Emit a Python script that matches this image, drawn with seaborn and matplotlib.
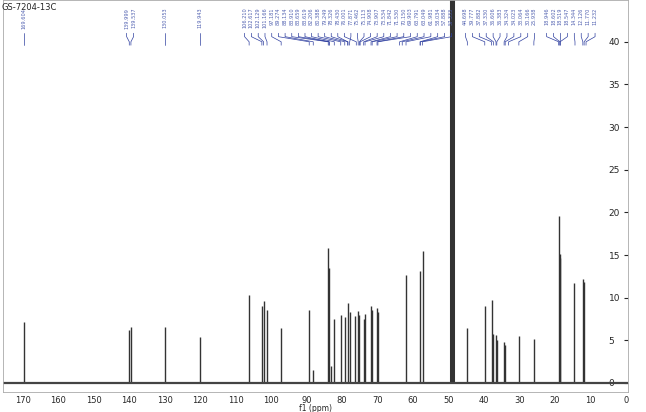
import numpy as np
import matplotlib
matplotlib.use('Agg')
import matplotlib.pyplot as plt
import seaborn as sns

sns.set_style('white')
plt.rcParams['font.family'] = ['DejaVu Sans']

# peak positions (ppm) and heights
ppm = [169.6, 140.0, 139.5, 130.05, 119.94, 106.21, 102.62, 102.13, 101.17, 97.18,
       89.27, 88.13, 83.91, 83.66, 83.2, 82.21, 80.39, 79.25, 78.33, 77.87, 76.43,
       75.46, 75.11, 73.91, 73.53, 71.84, 71.53, 70.15, 69.90, 61.98, 58.03, 57.33,
       49.0, 44.70, 39.78, 37.88, 37.33, 36.61, 36.38, 34.32, 34.02, 30.17, 25.94,
       18.95, 18.60, 18.52, 14.6, 12.13, 11.77]
height = [7.2, 6.2, 6.6, 6.6, 5.4, 10.3, 9.0, 9.6, 8.6, 6.5,
          8.6, 1.5, 15.8, 13.5, 2.0, 7.5, 8.0, 7.7, 9.4, 8.3, 7.9,
          8.4, 8.0, 7.5, 8.1, 9.0, 8.6, 8.8, 8.3, 12.6, 13.1, 15.5,
          60.0, 6.5, 9.0, 9.7, 5.7, 5.6, 5.0, 4.8, 4.5, 5.5, 5.2,
          19.6, 15.1, 14.6, 11.7, 12.2, 11.8]

labels = ['169.604', '139.999', '139.537', '130.053', '119.943', '106.210', '102.617',
          '102.129', '101.166', '97.181', '89.274', '88.134', '83.910', '83.659', '83.619',
          '82.206', '80.388', '79.249', '78.326', '78.430', '76.001', '77.871', '75.462',
          '75.113', '74.908', '73.907', '73.534', '71.842', '71.530', '70.150', '69.903',
          '63.791', '63.049', '61.981', '58.034', '57.888', '57.333', '44.698', '39.777',
          '37.882', '37.330', '36.606', '36.383', '34.324', '34.023', '33.064', '30.166',
          '25.938', '18.946', '18.602', '18.519', '18.547', '14.344', '12.126', '11.770',
          '11.232']

fig = plt.figure(figsize=(6.46, 4.12), dpi=100)
ax = fig.add_axes([3 / 646, 20 / 412, 625 / 646, 392 / 412])
ax.vlines(ppm, 0, height, color='#333333', lw=1.0)
ax.vlines([49.0, 48.8, 49.2], 0, 60, color='#333333', lw=2.2)
ax.axhline(0, color='#444444', lw=1.6)
ax.set_xlim(175.6, -0.6)
ax.set_ylim(-1.06, 44.9)
ax.set_xticks(np.arange(0, 171, 10))
ax.tick_params(axis='x', labelsize=6, length=2, pad=1)
ax.yaxis.tick_right()
ax.set_yticks(np.arange(0, 41, 5))
ax.tick_params(axis='y', labelsize=6.5, length=3, direction='in', pad=-14)
for s in ax.spines.values():
    s.set_color('#aaaaaa')
    s.set_linewidth(0.6)
ax.set_xlabel('f1 (ppm)', fontsize=5.5, labelpad=-1)

# spread label positions so they don't overlap
vals = [float(t) for t in labels]
gap = 1.95
pos = list(vals)
for _ in range(200):
    for i in range(1, len(pos)):
        if pos[i - 1] - pos[i] < gap:
            d = (gap - (pos[i - 1] - pos[i])) / 2
            pos[i - 1] += d
            pos[i] -= d
for v, p, t in zip(vals, pos, labels):
    ax.text(p, 44.0, t, rotation=90, fontsize=3.6, color='#5060b0', ha='center', va='top')
    ax.plot([p, p, v, v], [41.0, 40.6, 40.0, 39.6], color='#3040a0', lw=0.5)

fig.text(2 / 646, 1 - 7 / 412, 'GS-7204-13C', fontsize=6, va='center')
fig.savefig('out.png', dpi=100)
